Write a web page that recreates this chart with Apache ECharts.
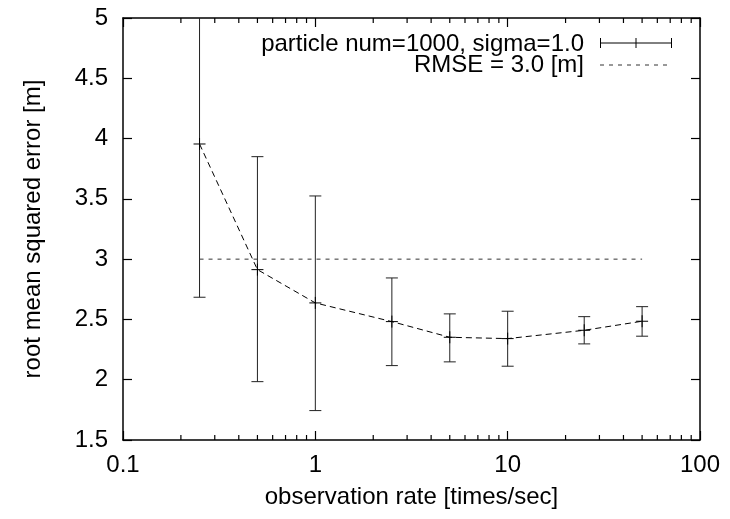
<!DOCTYPE html>
<html><head><meta charset="utf-8">
<script src="https://cdn.jsdelivr.net/npm/echarts@6.0.0/dist/echarts.min.js"></script>
<style>html,body{margin:0;padding:0;background:#fff}#c{width:730px;height:519px}</style>
</head><body><div id="c"></div>
<script>
// ---- data ----
const rates = [0.25, 0.5, 1, 2.5, 5, 10, 25, 50];
const rmseMean = [3.955, 2.913, 2.637, 2.482, 2.352, 2.341, 2.410, 2.485];
const rmseLow  = [2.684, 1.984, 1.744, 2.117, 2.148, 2.112, 2.297, 2.361];
const rmseHigh = [5.226, 3.850, 3.524, 2.844, 2.546, 2.568, 2.523, 2.606];
const thresholdX = [0.25, 50];
const thresholdY = [3.0, 3.0];
const xMinorTicks = [0.2,0.3,0.4,0.5,0.6,0.7,0.8,0.9, 2,3,4,5,6,7,8,9, 20,30,40,50,60,70,80,90];
const yMin = 1.5, yMax = 5, yStep = 0.5;
const xMin = 0.1, xMax = 100;
const seriesName = 'particle num=1000, sigma=1.0';
const refName = 'RMSE = 3.0 [m]';
const xTitle = 'observation rate [times/sec]';
const yTitle = 'root mean squared error [m]';

const FONT = '"Liberation Sans", Arial, Helvetica, sans-serif';
const FS = 24;
const chart = echarts.init(document.getElementById('c'), null, {renderer: 'canvas'});

const axisCommon = {
  axisLine: {show: true, lineStyle: {color: '#000', width: 1.5}},
  splitLine: {show: false},
  axisTick: {show: true, inside: true, length: 9, lineStyle: {color: '#000', width: 1.2}},
};

const option = {
  animation: false,
  backgroundColor: '#fff',
  grid: {left: 123, right: 30, top: 18, bottom: 79, containLabel: false},
  xAxis: [
    Object.assign({}, axisCommon, {
      type: 'log', logBase: 10, min: xMin, max: xMax, position: 'bottom',
      name: xTitle, nameLocation: 'middle', nameGap: 45,
      nameTextStyle: {fontFamily: FONT, fontSize: FS, color: '#000'},
      axisLabel: {fontFamily: FONT, fontSize: FS, color: '#000', margin: 13,
        formatter: v => String(+v.toPrecision(3))}
    }),
    Object.assign({}, axisCommon, {
      type: 'log', logBase: 10, min: xMin, max: xMax, position: 'top',
      axisLabel: {show: false}
    })
  ],
  yAxis: [
    Object.assign({}, axisCommon, {
      type: 'value', min: yMin, max: yMax, interval: yStep, position: 'left',
      name: yTitle, nameLocation: 'middle', nameGap: 78,
      nameTextStyle: {fontFamily: FONT, fontSize: FS, color: '#000'},
      axisLabel: {fontFamily: FONT, fontSize: FS, color: '#000', margin: 15}
    }),
    Object.assign({}, axisCommon, {
      type: 'value', min: yMin, max: yMax, interval: yStep, position: 'right',
      axisLabel: {show: false}
    })
  ],
  series: [
    {
      // minor ticks on top/bottom borders
      type: 'custom', xAxisIndex: 0, yAxisIndex: 0, silent: true,
      data: xMinorTicks.map(v => [v, yMin]),
      renderItem: function (params, api) {
        const v = api.value(0);
        const b = api.coord([v, yMin]);
        const t = api.coord([v, yMax]);
        const st = {stroke: '#000', lineWidth: 1.2};
        return {type: 'group', children: [
          {type: 'line', shape: {x1: b[0], y1: b[1], x2: b[0], y2: b[1] - 5}, style: st},
          {type: 'line', shape: {x1: t[0], y1: t[1], x2: t[0], y2: t[1] + 5}, style: st}
        ]};
      }
    },
    {
      name: refName, type: 'line', xAxisIndex: 0, yAxisIndex: 0,
      data: thresholdX.map((x, i) => [x, thresholdY[i]]),
      showSymbol: false, symbol: 'none',
      lineStyle: {color: '#333', width: 1, type: [4, 5]}
    },
    {
      name: seriesName, type: 'line', xAxisIndex: 0, yAxisIndex: 0,
      data: rates.map((x, i) => [x, rmseMean[i]]),
      showSymbol: false, symbol: 'none',
      lineStyle: {color: '#000', width: 1, type: [6, 4]}
    },
    {
      name: seriesName + ' err', type: 'custom', xAxisIndex: 0, yAxisIndex: 0,
      data: rates.map((x, i) => [x, rmseLow[i], rmseHigh[i], rmseMean[i]]),
      encode: {x: 0, y: [1, 2, 3]},
      renderItem: function (params, api) {
        const x = api.value(0), lo = api.value(1), hi = api.value(2), m = api.value(3);
        const pl = api.coord([x, lo]);
        const ph = api.coord([x, Math.min(hi, yMax)]);
        const pm = api.coord([x, m]);
        const st = {stroke: '#222', lineWidth: 1};
        const cap = 6, pl_ = 6;
        const ch = [
          {type: 'line', shape: {x1: pl[0], y1: pl[1], x2: ph[0], y2: ph[1]}, style: st},
          {type: 'line', shape: {x1: pl[0] - cap, y1: pl[1], x2: pl[0] + cap, y2: pl[1]}, style: st},
          {type: 'line', shape: {x1: pm[0] - pl_, y1: pm[1], x2: pm[0] + pl_, y2: pm[1]}, style: {stroke: '#000', lineWidth: 1}},
          {type: 'line', shape: {x1: pm[0], y1: pm[1] - pl_, x2: pm[0], y2: pm[1] + pl_}, style: {stroke: '#000', lineWidth: 1}}
        ];
        if (hi <= yMax) ch.push({type: 'line', shape: {x1: ph[0] - cap, y1: ph[1], x2: ph[0] + cap, y2: ph[1]}, style: st});
        return {type: 'group', children: ch};
      }
    }
  ],
  graphic: [
    {type: 'text', x: 584, y: 44, style: {text: seriesName, fontSize: FS, fontFamily: FONT, fill: '#000', align: 'right', verticalAlign: 'middle'}},
    {type: 'text', x: 584, y: 65, style: {text: refName, fontSize: FS, fontFamily: FONT, fill: '#000', align: 'right', verticalAlign: 'middle'}},
    {type: 'group', x: 600, y: 38, children: [
      {type: 'line', shape: {x1: 0, y1: 5, x2: 72, y2: 5}, style: {stroke: '#000', lineWidth: 1}},
      {type: 'line', shape: {x1: 0.5, y1: 0, x2: 0.5, y2: 10}, style: {stroke: '#000', lineWidth: 1}},
      {type: 'line', shape: {x1: 71.5, y1: 0, x2: 71.5, y2: 10}, style: {stroke: '#000', lineWidth: 1}},
      {type: 'line', shape: {x1: 36, y1: 0, x2: 36, y2: 10}, style: {stroke: '#000', lineWidth: 1}}
    ]},
    {type: 'line', x: 600, y: 65, shape: {x1: 0, y1: 0, x2: 68, y2: 0}, style: {stroke: '#333', lineWidth: 1, lineDash: [4, 5]}}
  ]
};
chart.setOption(option);
</script></body></html>
